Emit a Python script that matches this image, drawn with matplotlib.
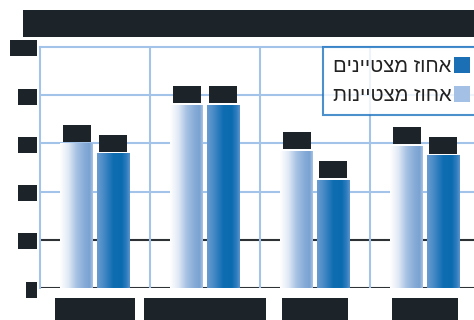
import numpy as np
import matplotlib
matplotlib.use('Agg')
import matplotlib.pyplot as plt
from matplotlib.colors import LinearSegmentedColormap
from matplotlib.patches import Patch

title = "אחוז המצטיינים והמצטיינות בבחינות הבגרות לפי פיקוח"
categories = ["יהודי הכללי", "יהודי ממלכתי-דתי", "זרם ערבי", "זרם דרוזי"]
series_names = ["אחוז מצטיינים", "אחוז מצטיינות"]
boys = [56, 76, 45, 55]
girls = [60, 76, 57, 59]
yticks = [0, 20, 40, 60, 80, 100]


def rtl(s):
    return s[::-1]


DARK = '#1c2329'
GRID_BLUE = '#a3c4e8'
GRID_DARK = '#2e3235'
HEB = ['Liberation Sans', 'DejaVu Sans']

W, H = 474, 320
fig = plt.figure(figsize=(W / 100, H / 100), dpi=100)
ax = fig.add_axes([40 / W, (H - 288.3) / H, 440 / W, (288.3 - 46.7) / H])

x = np.arange(len(categories))
bw = 0.30
off = 0.165

light_cmap = LinearSegmentedColormap.from_list('l', [
    (0, '#ffffff'), (0.25, '#e2eaf6'), (0.5, '#a7c2e3'), (0.75, '#86abd7'),
    (0.9, '#7aa3d3'), (1, '#a9c3e4')])
dark_cmap = LinearSegmentedColormap.from_list('d', [
    (0, '#6a9dd1'), (0.25, '#3f85c4'), (0.5, '#0e6db0'), (0.75, '#0a6bae'),
    (0.9, '#2f7dbf'), (1, '#5b95cd')])

bars_g = ax.bar(x - off, girls, bw, color='none', zorder=3)
bars_b = ax.bar(x + off, boys, bw, color='none', zorder=3)
grad = np.linspace(0, 1, 256).reshape(1, -1)
for bars, cm in ((bars_g, light_cmap), (bars_b, dark_cmap)):
    for b in bars:
        x0, y0 = b.get_x(), b.get_y()
        w, h = b.get_width(), b.get_height()
        im = ax.imshow(grad, cmap=cm, extent=(x0, x0 + w, y0, y0 + h),
                       aspect='auto', zorder=3, interpolation='bilinear')
        im.set_clip_path(b)

for v in yticks[2:-1]:
    ax.axhline(v, color=GRID_BLUE, lw=1.5, zorder=1)
for v in yticks[:2]:
    ax.axhline(v, color=GRID_DARK, lw=1.5, zorder=1)
for v in x[:-1] + 0.5:
    ax.axvline(v, color=GRID_BLUE, lw=1.5, zorder=1)

for s in ('right', 'bottom'):
    ax.spines[s].set_visible(False)
for s in ('left', 'top'):
    ax.spines[s].set_color(GRID_BLUE)
    ax.spines[s].set_linewidth(1.5)

for bars, vals in ((bars_g, girls), (bars_b, boys)):
    for b, v in zip(bars, vals):
        ax.annotate(f"{v}%", (b.get_x() + b.get_width() / 2, v), xytext=(0, 3.5),
                    textcoords='offset points', ha='center', va='bottom',
                    fontsize=7, color=DARK, zorder=5,
                    bbox=dict(boxstyle='square,pad=0.35', fc=DARK, ec='none'))

handles = [Patch(facecolor='#1b6fb5', edgecolor='none'),
           Patch(facecolor='#a4c0e4', edgecolor='none')]
leg = ax.legend(handles, [rtl(s) for s in series_names], loc='upper right',
                bbox_to_anchor=(1, 1), borderaxespad=0, markerfirst=False,
                frameon=True, fancybox=False, handlelength=0.8,
                handleheight=0.85, handletextpad=0.12, labelspacing=0.5,
                borderpad=0.5, prop={'family': HEB, 'size': 14.5})
leg.get_frame().set_edgecolor('#1f74c0')
leg.get_frame().set_linewidth(1.5)
for t in leg.get_texts():
    t.set_color('#222222')

fig.text(27 / W, 1 - 23.5 / H, rtl(title), ha='left', va='center', fontsize=14,
         family=HEB, color=DARK,
         bbox=dict(boxstyle='square,pad=0.21', fc=DARK, ec='none'))

ax.set_xlim(-0.5, len(categories) - 0.5)
ax.set_ylim(yticks[0], yticks[-1])
ax.set_yticks(yticks)
ax.set_yticklabels([str(v) for v in yticks])
ax.tick_params(axis='y', length=0, pad=3, labelsize=9, labelcolor=DARK)
for lab in ax.get_yticklabels():
    lab.set_bbox(dict(boxstyle='square,pad=0.12', fc=DARK, ec='none'))
ax.set_xticks(x)
ax.set_xticklabels([rtl(c) for c in categories], family=HEB)
ax.tick_params(axis='x', length=0, pad=10, labelsize=11, labelcolor=DARK)
for lab in ax.get_xticklabels():
    lab.set_bbox(dict(boxstyle='square,pad=0.3', fc=DARK, ec='none'))

fig.savefig('out.png', dpi=100)
